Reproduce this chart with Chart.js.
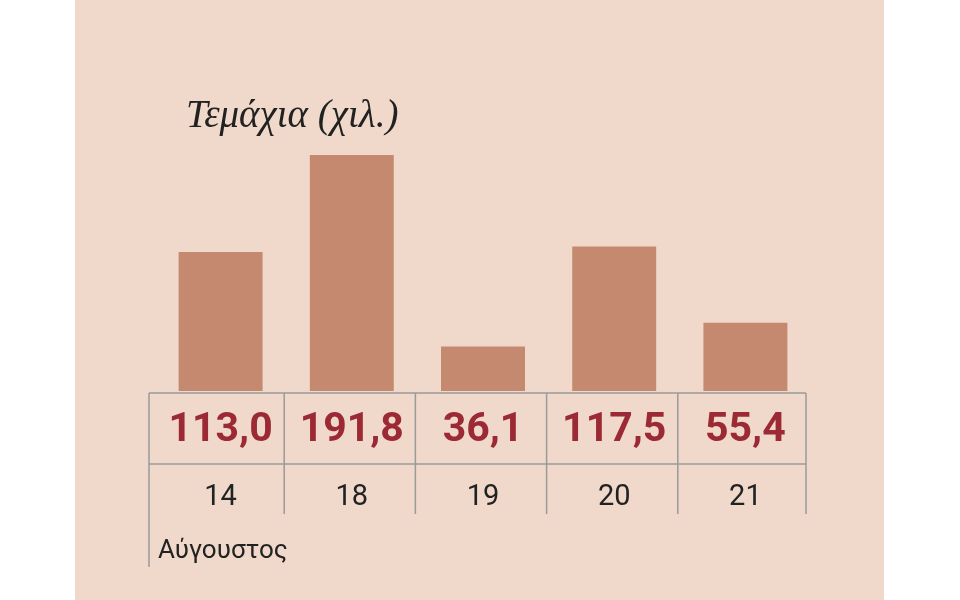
<!DOCTYPE html>
<html><head><meta charset="utf-8">
<script src="https://cdn.jsdelivr.net/npm/chart.js@4"></script>
<style>html,body{margin:0;padding:0;background:#fff}canvas{display:block}</style>
</head><body>
<div style="width:960px;height:600px"><canvas id="c" width="960" height="600"></canvas></div>
<script>
const categories = ["14", "18", "19", "20", "21"];
const values = [113.0, 191.8, 36.1, 117.5, 55.4];
const valueLabels = ["113,0", "191,8", "36,1", "117,5", "55,4"];
const title = "Τεμάχια (χιλ.)";
const monthLabel = "Αύγουστος";

const deco = {
  id: 'deco',
  beforeDraw(chart) {
    const ctx = chart.ctx;
    ctx.save();
    ctx.fillStyle = '#fff'; ctx.fillRect(0,0,960,600);
    ctx.fillStyle = '#f0d9ca'; ctx.fillRect(75,0,809,600);
    ctx.restore();
  },
  afterDraw(chart) {
    const ctx = chart.ctx, a = chart.chartArea, x = chart.scales.x;
    ctx.save();
    ctx.strokeStyle = '#9a9a9a'; ctx.lineWidth = 1.5;
    const L = 149, R = 806;
    const top = a.bottom + 2, mid = top + 71, bot = mid + 50;
    ctx.beginPath();
    ctx.moveTo(L, top); ctx.lineTo(R, top);
    ctx.moveTo(L, mid); ctx.lineTo(R, mid);
    ctx.moveTo(L, top); ctx.lineTo(L, bot + 53);
    for (let i = 0; i < categories.length; i++) {
      const xx = i < categories.length - 1 ? (x.getPixelForValue(i) + x.getPixelForValue(i + 1)) / 2 - 2 : R;
      ctx.moveTo(xx, top); ctx.lineTo(xx, bot);
    }
    ctx.stroke();
    ctx.textAlign = 'center'; ctx.textBaseline = 'middle';
    categories.forEach((c, i) => {
      const cx = x.getPixelForValue(i);
      ctx.fillStyle = '#9b2a35'; ctx.font = 'bold 41px Roboto';
      ctx.fillText(valueLabels[i], cx, top + 38);
      ctx.fillStyle = '#222'; ctx.font = '29px Roboto';
      ctx.fillText(c, cx, mid + 34);
    });
    ctx.textAlign = 'left';
    ctx.fillStyle = '#222'; ctx.font = '26px Roboto';
    ctx.fillText(monthLabel, L + 9, bot + 37);
    ctx.font = 'italic 39px "Liberation Serif"';
    ctx.fillText(title, 186, 117);
    ctx.restore();
  }
};

new Chart(document.getElementById('c'), {
  type: 'bar',
  data: { labels: categories, datasets: [{ data: values, backgroundColor: '#c4896e',
    categoryPercentage: 1, barPercentage: 0.64 }] },
  options: {
    responsive: false, animation: false,
    layout: { padding: { left: 155, right: 149, top: 155, bottom: 209 } },
    plugins: { legend: { display: false }, tooltip: { enabled: false } },
    scales: { x: { display: false }, y: { display: false, min: 0, max: 191.8 } }
  },
  plugins: [deco]
});
</script>
</body></html>
